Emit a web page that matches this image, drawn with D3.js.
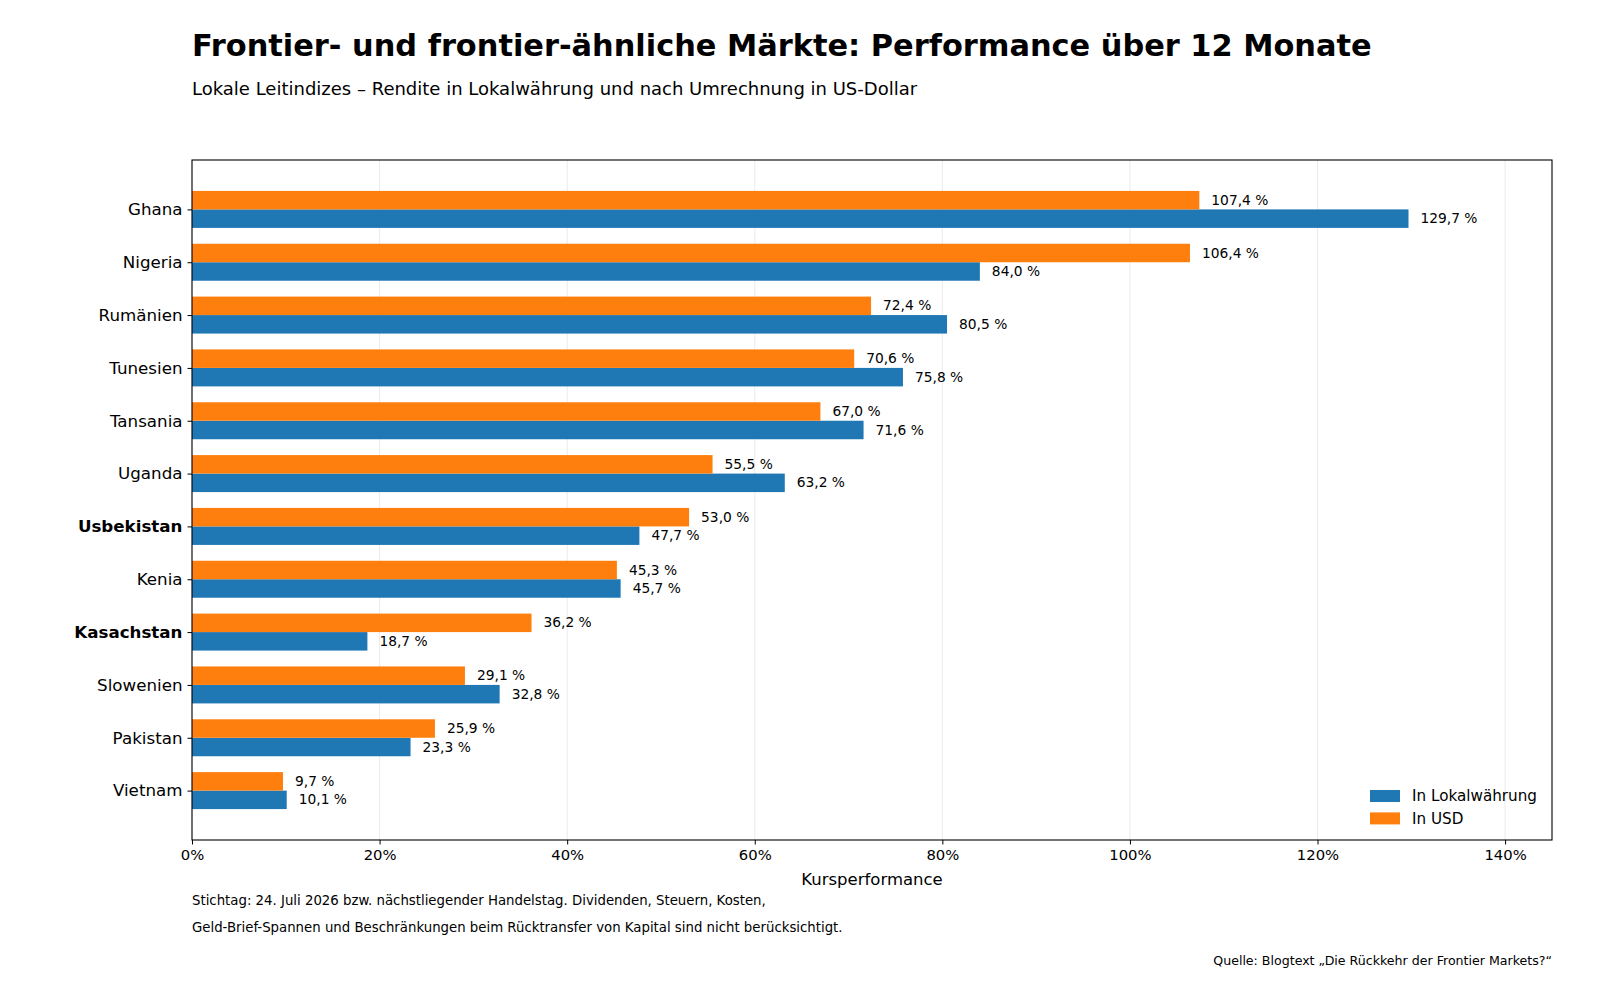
<!DOCTYPE html>
<html>
<head>
<meta charset="utf-8">
<script src="https://cdn.jsdelivr.net/npm/d3@7"></script>
<style>
  body { margin: 0; background: #fff; }
  text { font-family: "DejaVu Sans", sans-serif; }
</style>
</head>
<body>
<div id="chart"></div>
<script>
const laender = ["Ghana", "Nigeria", "Rumänien", "Tunesien", "Tansania", "Uganda",
  "Usbekistan", "Kenia", "Kasachstan", "Slowenien", "Pakistan", "Vietnam"];
const lokal = [129.7, 84.0, 80.5, 75.8, 71.6, 63.2, 47.7, 45.7, 18.7, 32.8, 23.3, 10.1];
const usd = [107.4, 106.4, 72.4, 70.6, 67.0, 55.5, 53.0, 45.3, 36.2, 29.1, 25.9, 9.7];
const fett = ["Usbekistan", "Kasachstan"];
const xTicks = [0, 20, 40, 60, 80, 100, 120, 140];
const serien = [
  { name: "In Lokalwährung", werte: lokal, farbe: "#1f77b4", offset: 0.175 },
  { name: "In USD", werte: usd, farbe: "#ff7f0e", offset: -0.175 }
];

const width = 1600, height = 1000;
const margin = { top: 160, right: 48, bottom: 160, left: 192 };

const svg = d3.select("#chart").append("svg")
  .attr("width", width)
  .attr("height", height);

const x = d3.scaleLinear()
  .domain([0, 145])
  .range([margin.left, width - margin.right]);

// index scale like matplotlib, inverted
const y = d3.scaleLinear()
  .domain([-0.935, laender.length - 1 + 0.935])
  .range([margin.top, height - margin.bottom]);

const barH = y(0.35) - y(0);
const fmt = v => d3.format(".1f")(v).replace(".", ",") + " %";

// grid
svg.append("g")
  .selectAll("line")
  .data(xTicks)
  .join("line")
  .attr("x1", d => x(d)).attr("x2", d => x(d))
  .attr("y1", margin.top).attr("y2", height - margin.bottom)
  .attr("stroke", "#ebebeb")
  .attr("stroke-width", 1);

serien.forEach(s => {
  svg.append("g")
    .selectAll("rect")
    .data(s.werte)
    .join("rect")
    .attr("x", x(0))
    .attr("y", (d, i) => y(i + s.offset) - barH / 2)
    .attr("width", d => x(d) - x(0))
    .attr("height", barH)
    .attr("fill", s.farbe);

  svg.append("g")
    .selectAll("text")
    .data(s.werte)
    .join("text")
    .attr("x", d => x(d) + 12)
    .attr("y", (d, i) => y(i + s.offset))
    .attr("dy", "0.33em")
    .attr("font-size", 13.8)
    .attr("fill", "#000")
    .text(d => fmt(d));
});

// frame
svg.append("rect")
  .attr("x", margin.left).attr("y", margin.top)
  .attr("width", width - margin.left - margin.right)
  .attr("height", height - margin.top - margin.bottom)
  .attr("fill", "none")
  .attr("stroke", "#000")
  .attr("stroke-width", 1.1);

const xAxis = svg.append("g")
  .attr("transform", `translate(0,${height - margin.bottom})`)
  .call(d3.axisBottom(x).tickValues(xTicks).tickFormat(d => d + "%").tickSize(4.5).tickPadding(5))
  .call(g => g.select(".domain").remove());
xAxis.selectAll("text").attr("font-size", 14.8).attr("fill", "#000").attr("font-family", "DejaVu Sans");

const yAxis = svg.append("g")
  .attr("transform", `translate(${margin.left},0)`)
  .call(d3.axisLeft(y).tickValues(d3.range(laender.length)).tickFormat(i => laender[i]).tickSize(4.5).tickPadding(5))
  .call(g => g.select(".domain").remove());
yAxis.selectAll("text")
  .attr("font-size", 16.7)
  .attr("fill", "#000")
  .attr("font-family", "DejaVu Sans")
  .attr("font-weight", i => fett.includes(laender[i]) ? "bold" : "normal");

svg.append("text")
  .attr("x", (margin.left + width - margin.right) / 2)
  .attr("y", 885)
  .attr("text-anchor", "middle")
  .attr("font-size", 16.5)
  .text("Kursperformance");

// legend
const legend = svg.append("g")
  .attr("transform", `translate(1370, 790)`);
serien.forEach((s, i) => {
  legend.append("rect")
    .attr("x", 0).attr("y", i * 22.4)
    .attr("width", 30).attr("height", 12)
    .attr("fill", s.farbe);
  legend.append("text")
    .attr("x", 42).attr("y", i * 22.4 + 6)
    .attr("dy", "0.35em")
    .attr("font-size", 15.2)
    .text(s.name);
});

// titles
svg.append("text")
  .attr("x", 192).attr("y", 56)
  .attr("font-size", 30.4)
  .attr("font-weight", "bold")
  .text("Frontier- und frontier-ähnliche Märkte: Performance über 12 Monate");

svg.append("text")
  .attr("x", 192).attr("y", 95)
  .attr("font-size", 18)
  .text("Lokale Leitindizes – Rendite in Lokalwährung und nach Umrechnung in US-Dollar");

svg.append("text")
  .attr("x", 192).attr("y", 905)
  .attr("font-size", 13.3)
  .text("Stichtag: 24. Juli 2026 bzw. nächstliegender Handelstag. Dividenden, Steuern, Kosten,");

svg.append("text")
  .attr("x", 192).attr("y", 932)
  .attr("font-size", 13.3)
  .text("Geld-Brief-Spannen und Beschränkungen beim Rücktransfer von Kapital sind nicht berücksichtigt.");

svg.append("text")
  .attr("x", width - margin.right).attr("y", 965)
  .attr("text-anchor", "end")
  .attr("font-size", 12.6)
  .text("Quelle: Blogtext „Die Rückkehr der Frontier Markets?“");
</script>
</body>
</html>
